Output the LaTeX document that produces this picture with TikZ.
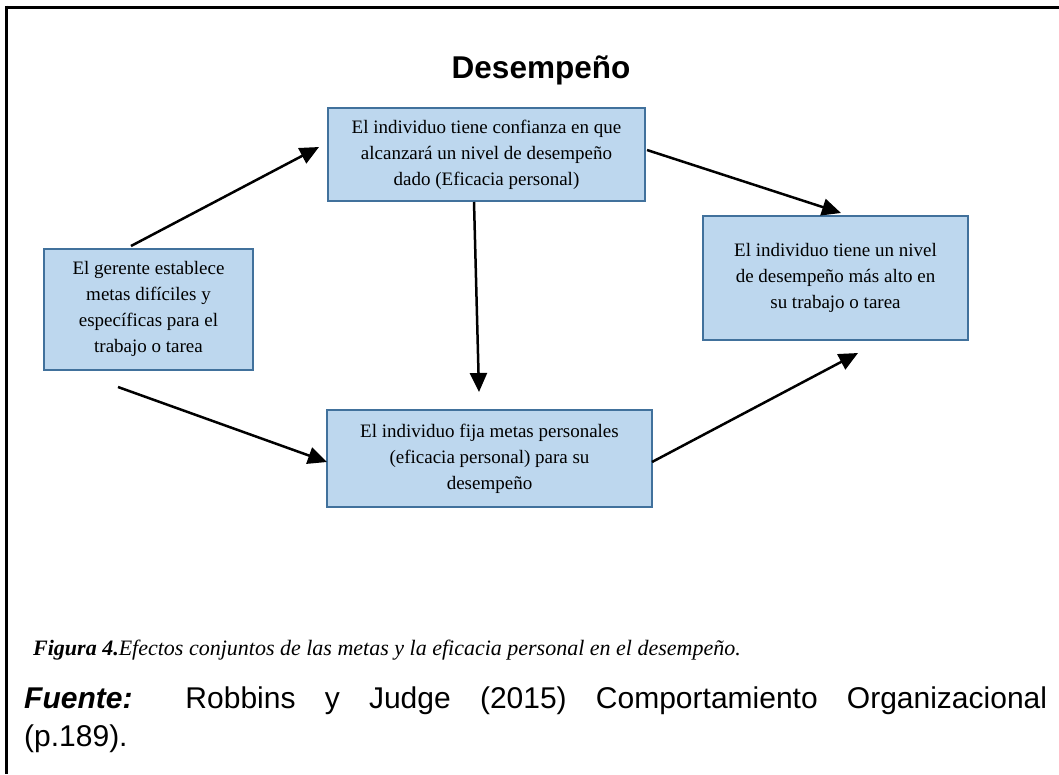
\documentclass[tikz,border=0pt]{standalone}
\usepackage{fontspec}
\setmainfont{Liberation Serif}
\newfontfamily\arialf{Liberation Sans}
\usetikzlibrary{arrows.meta,calc}
\definecolor{boxfill}{HTML}{BDD7EE}
\definecolor{boxborder}{HTML}{41719C}
\begin{document}
\begin{tikzpicture}[x=1pt,y=-1pt,
  blockbox/.style={draw=boxborder,line width=2pt,fill=boxfill,align=center,inner sep=0pt,
    font=\fontsize{19}{26}\selectfont},
  conn/.style={line width=2.5pt,-{Triangle[length=19pt,width=17pt]}},
  frameline/.style={line width=3pt,black}]
\useasboundingbox (0,0) rectangle (1059,774);
% frame (top and left edges)
\coordinate (ftr) at (1059,7);
\coordinate (ftl) at (5,7);
\coordinate (fbl) at (6,774);
\draw[frameline] (ftr) -- (ftl);
\draw[frameline] (6,5.5) -- (fbl);
% title
\node[font=\arialf\bfseries\fontsize{31.5}{36}\selectfont] (title) at (541,70) {Desempeño};
% boxes
\node[blockbox,minimum width=209pt,minimum height=121pt] (gerente) at (148.5,309)
  {El gerente establece\\metas difíciles y\\específicas para el\\trabajo o tarea};
\node[blockbox,minimum width=317pt,minimum height=93pt] (conf) at (486.5,154.5)
  {El individuo tiene confianza en que\\alcanzará un nivel de desempeño\\dado (Eficacia personal)};
\node[blockbox,minimum width=265pt,minimum height=124pt] (alto) at (835.5,278)
  {El individuo tiene un nivel\\de desempeño más alto en\\su trabajo o tarea};
\node[blockbox,minimum width=325pt,minimum height=97pt] (fija) at (489.5,458.5)
  {El individuo fija metas personales\\(eficacia personal) para su\\desempeño};
% connector end points
\coordinate (a1s) at (131,246);
\coordinate (a1e) at (319,147);
\coordinate (a2s) at (647,150);
\coordinate (a2e) at (841,213);
\coordinate (a3s) at (474,202);
\coordinate (a3e) at (479,392);
\coordinate (a4s) at (118,387);
\coordinate (a4e) at (327,462);
\coordinate (a5s) at (652,462);
\coordinate (a5e) at (858,353);
\draw[conn] (a1s) -- (a1e);
\draw[conn] (a2s) -- (a2e);
\draw[conn] (a3s) -- (a3e);
\draw[conn] (a4s) -- (a4e);
\draw[conn] (a5s) -- (a5e);
% caption
\node[anchor=base west,inner sep=0pt,font=\fontsize{22}{26}\selectfont] (caption) at (33,655)
  {{\bfseries\itshape Figura 4.}{\itshape Efectos conjuntos de las metas y la eficacia personal en el desempeño.}};
% source
\node[anchor=north west,inner sep=0pt,text width=1023pt,align=justify,
  font=\arialf\fontsize{30}{38}\selectfont] (fuente) at (24,687)
  {{\bfseries\itshape Fuente:} Robbins y Judge (2015) Comportamiento Organizacional\linebreak (p.189).};
\end{tikzpicture}
\end{document}
